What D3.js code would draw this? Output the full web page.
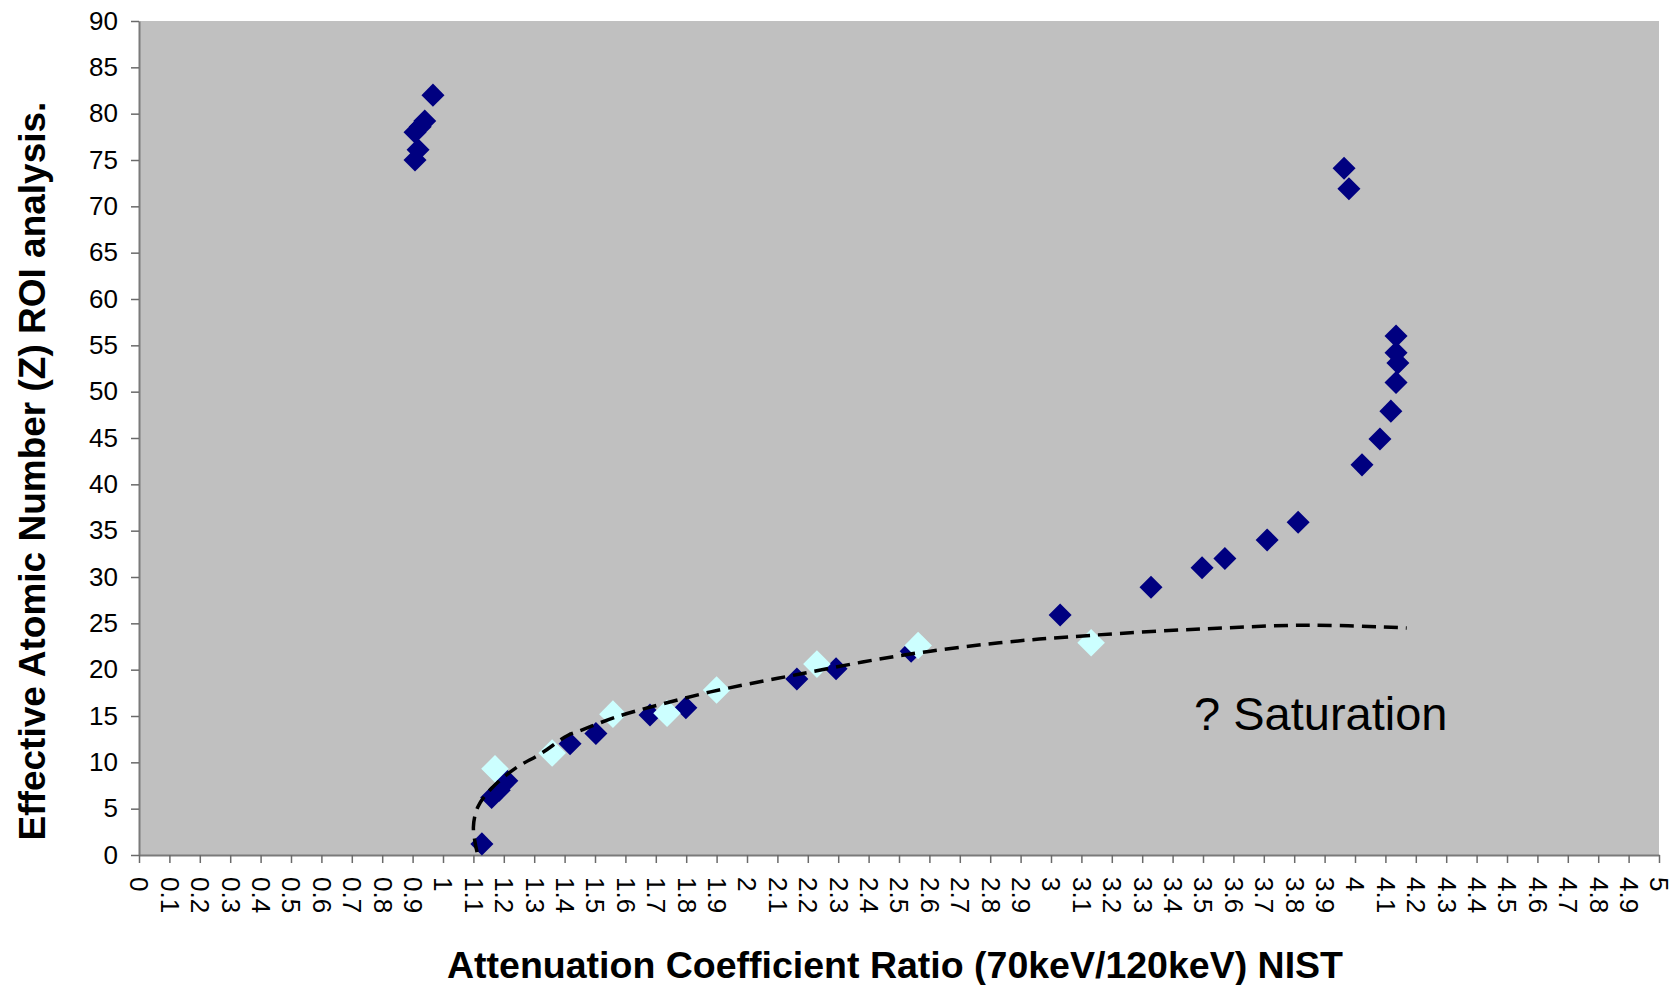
<!DOCTYPE html>
<html>
<head>
<meta charset="utf-8">
<script src="https://cdn.jsdelivr.net/npm/d3@7"></script>
<style>
  html, body { margin: 0; padding: 0; background: #fff; }
  svg { display: block; font-family: "Liberation Sans", Arial, sans-serif; }
</style>
</head>
<body>
<svg id="chart" width="1677" height="985"></svg>
<script>
// measured points, dark series (ratio, Z)
const darkX = [0.967, 0.94, 0.925, 0.908, 0.918, 0.908,
  1.128, 1.16, 1.185, 1.21, 1.418, 1.503, 1.681, 1.799, 2.164, 2.293, 2.54,
  3.03, 3.329, 3.497, 3.572, 3.711, 3.813,
  4.023, 4.082, 4.118, 4.135, 4.141, 4.135, 4.135, 3.964, 3.98];
const darkZ = [82, 79.2, 78.6, 78, 76.1, 75,
  1.2, 6.2, 7, 8, 12, 13.1, 15.1, 15.9, 19, 20.1, 22,
  25.9, 28.9, 31, 32, 34, 35.9,
  42.1, 44.9, 47.9, 51, 53.1, 54.2, 56, 74.1, 71.9];

// NIST reference points (light)
const nistX = [1.171, 1.359, 1.559, 1.737, 1.9, 2.23, 2.563, 3.132];
const nistZ = [9.3, 11, 15.2, 15.3, 17.8, 20.6, 22.6, 22.9];

// dashed trend curve
const trendX = [1.112, 1.1, 1.115, 1.16, 1.24, 1.32, 1.41, 1.45, 1.57, 1.71, 1.88, 2.17, 2.5, 2.83, 3.13, 3.5, 3.85, 4.17];
const trendZ = [0.3, 3.0, 5.2, 7.2, 9.4, 10.9, 12.9, 13.4, 14.9, 16.2, 17.6, 19.5, 21.5, 22.9, 23.7, 24.4, 24.8, 24.5];

const xTicks = [0, 0.1, 0.2, 0.3, 0.4, 0.5, 0.6, 0.7, 0.8, 0.9, 1, 1.1, 1.2, 1.3, 1.4, 1.5, 1.6, 1.7, 1.8, 1.9,
  2, 2.1, 2.2, 2.3, 2.4, 2.5, 2.6, 2.7, 2.8, 2.9, 3, 3.1, 3.2, 3.3, 3.4, 3.5, 3.6, 3.7, 3.8, 3.9,
  4, 4.1, 4.2, 4.3, 4.4, 4.5, 4.6, 4.7, 4.8, 4.9, 5];
const yTicks = [0, 5, 10, 15, 20, 25, 30, 35, 40, 45, 50, 55, 60, 65, 70, 75, 80, 85, 90];

const svg = d3.select('#chart');
const plot = { left: 139, right: 1659, top: 21, bottom: 855 };

const x = d3.scaleLinear().domain([0, 5]).range([plot.left, plot.right]);
const y = d3.scaleLinear().domain([0, 90]).range([plot.bottom, plot.top]);

svg.append('rect')
  .attr('x', plot.left).attr('y', plot.top)
  .attr('width', plot.right - plot.left).attr('height', plot.bottom - plot.top)
  .attr('fill', '#c0c0c0');

const yAxis = svg.append('g')
  .attr('transform', `translate(${plot.left},0)`)
  .call(d3.axisLeft(y).tickValues(yTicks).tickSize(8).tickSizeOuter(0).tickPadding(13));

const xAxis = svg.append('g')
  .attr('transform', `translate(0,${plot.bottom})`)
  .call(d3.axisBottom(x).tickValues(xTicks).tickSize(8).tickSizeOuter(0).tickFormat(d3.format('~g')));

xAxis.selectAll('text')
  .attr('transform', 'rotate(90)')
  .attr('x', 22).attr('y', 0).attr('dy', '0.35em')
  .attr('text-anchor', 'start');

[xAxis, yAxis].forEach((g) => {
  g.select('.domain').attr('stroke', '#7a7a7a').attr('stroke-width', 2);
  g.selectAll('.tick line').attr('stroke', '#6a6a6a').attr('stroke-width', 1.5);
  g.selectAll('text').attr('font-size', 26).attr('fill', '#000')
    .style('font-family', '"Liberation Sans", Arial, sans-serif');
});

const diamond = (size) => d3.symbol().type(d3.symbolSquare).size(size);

svg.append('g')
  .selectAll('path')
  .data(darkX.map((v, i) => [v, darkZ[i]]))
  .join('path')
  .attr('d', diamond(265))
  .attr('transform', (d) => `translate(${x(d[0])},${y(d[1])}) rotate(45)`)
  .attr('fill', '#000080');

svg.append('g')
  .selectAll('path')
  .data(nistX.map((v, i) => [v, nistZ[i]]))
  .join('path')
  .attr('d', diamond(380))
  .attr('transform', (d) => `translate(${x(d[0])},${y(d[1])}) rotate(45)`)
  .attr('fill', '#ccffff');

const line = d3.line()
  .x((d) => x(d[0]))
  .y((d) => y(d[1]))
  .curve(d3.curveCatmullRom.alpha(0.5));

svg.append('path')
  .datum(trendX.map((v, i) => [v, trendZ[i]]))
  .attr('d', line)
  .attr('fill', 'none')
  .attr('stroke', '#000')
  .attr('stroke-width', 3.5)
  .attr('stroke-dasharray', '14,8');

svg.append('text')
  .attr('x', 1194).attr('y', 730)
  .attr('font-size', 47)
  .text('? Saturation');

svg.append('text')
  .attr('x', 895).attr('y', 978)
  .attr('text-anchor', 'middle')
  .attr('font-size', 37.5).attr('font-weight', 'bold')
  .text('Attenuation Coefficient Ratio (70keV/120keV) NIST');

svg.append('text')
  .attr('transform', 'translate(45,471) rotate(-90)')
  .attr('text-anchor', 'middle')
  .attr('font-size', 37).attr('font-weight', 'bold')
  .text('Effective Atomic Number (Z) ROI analysis.');
</script>
</body>
</html>
